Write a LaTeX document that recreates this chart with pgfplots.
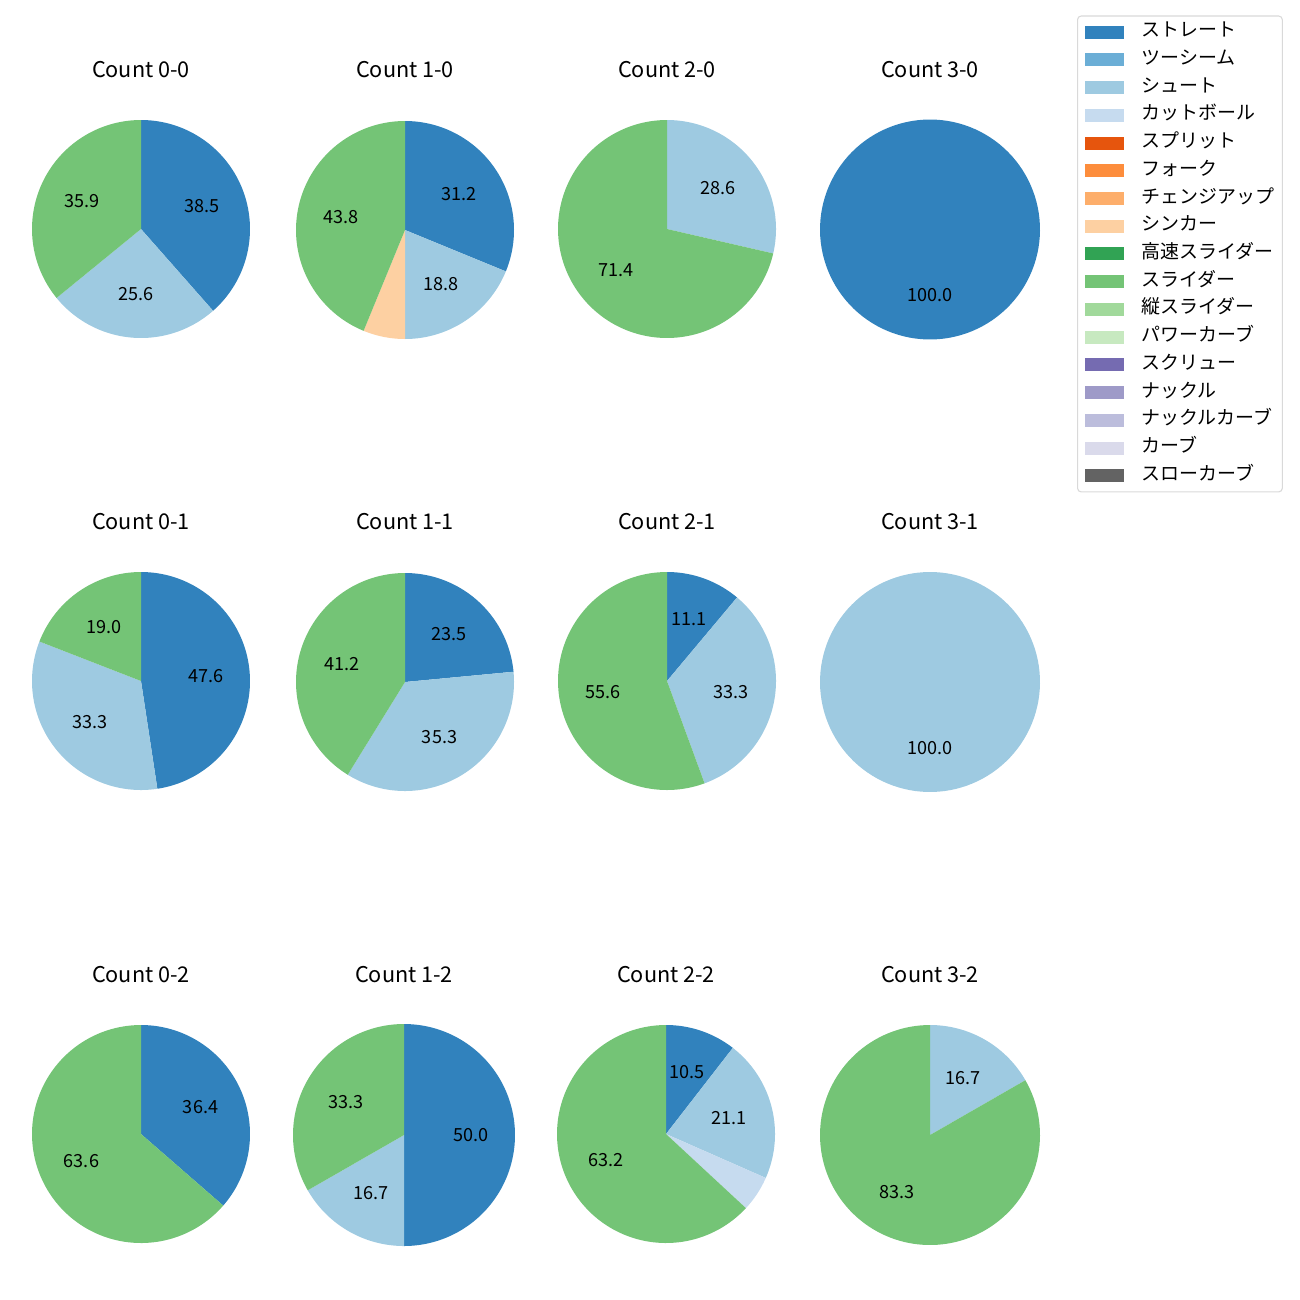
\documentclass[border=0pt]{standalone}
\usepackage{fontspec}
\setmainfont{Noto Sans CJK JP}
\usepackage{pgfplots}
\pgfplotsset{compat=1.18}
\definecolor{ca}{HTML}{3182BD}
\definecolor{cb}{HTML}{6BAED6}
\definecolor{cc}{HTML}{9ECAE1}
\definecolor{cd}{HTML}{C6DBEF}
\definecolor{ce}{HTML}{E6550D}
\definecolor{cf}{HTML}{FD8D3C}
\definecolor{cg}{HTML}{FDAE6B}
\definecolor{ch}{HTML}{FDD0A2}
\definecolor{ci}{HTML}{31A354}
\definecolor{cj}{HTML}{74C476}
\definecolor{ck}{HTML}{A1D99B}
\definecolor{cl}{HTML}{C7E9C0}
\definecolor{cm}{HTML}{756BB1}
\definecolor{cn}{HTML}{9E9AC8}
\definecolor{co}{HTML}{BCBDDC}
\definecolor{cp}{HTML}{DADAEB}
\definecolor{cq}{HTML}{636363}
\newcommand\pxu{0.553846pt}
\newcommand\lab{\fontsize{10}{12}\selectfont}
% slice: value, colour, show label (1/0)
\newcommand\slice[3]{\pgfmathsetmacro\pe{\ps+#1}\sldraw{#2}{#3}{#1}}
\newcommand\slicel[3]{\def\pe{100}\sldraw{#2}{#3}{#1}}
\newcommand\sldraw[3]{%
  \pgfmathsetmacro\angA{90-3.6*\pe}%
  \pgfmathsetmacro\angB{90-3.6*\ps}%
  \pgfmathsetmacro\lx{0.6*cos(90-1.8*(\ps+\pe))}%
  \pgfmathsetmacro\ly{0.6*sin(90-1.8*(\ps+\pe))}%
  \edef\tmp{\noexpand\addplot[fill=#1,draw=none,domain=\angA:\angB,samples=120] ({cos(x)},{sin(x)}) -- (axis cs:0,0) -- cycle;}\tmp
  \ifnum#2=1 \edef\tmp{\noexpand\node[font=\noexpand\lab] at (axis cs:\lx,\ly) {#3};}\tmp\fi
  \global\let\ps\pe}
% pie: cx, cy, r, title y, title, slices (pixel units)
\newcommand\pie[6]{%
  \pgfmathsetlengthmacro\pw{2*#3*\pxu}%
  \pgfmathsetlengthmacro\tys{(#2-#4-#3-11)*\pxu}%
  \begin{axis}[hide axis, scale only axis, clip=false, width=\pw, height=\pw,
    xmin=-1,xmax=1,ymin=-1,ymax=1, anchor=center, at={({#1*\pxu},{-#2*\pxu})},
    title={#5}, title style={at={(0.5,1)}, anchor=center, yshift=\tys, font=\fontsize{12}{14}\selectfont}]
  \gdef\ps{0}%
  #6
  \end{axis}}
\begin{document}
\begin{tikzpicture}
\useasboundingbox (0,0) rectangle (720pt,-720pt);
\pie{141}{229}{109}{69}{Count 0-0}{\slice{38.5}{ca}{1}\slice{25.6}{cc}{1}\slicel{35.9}{cj}{1}}
\pie{405}{230}{109}{69}{Count 1-0}{\slice{31.2}{ca}{1}\slice{18.8}{cc}{1}\slice{6.2}{ch}{0}\slicel{43.8}{cj}{1}}
\pie{667}{229}{109}{69}{Count 2-0}{\slice{28.6}{cc}{1}\slicel{71.4}{cj}{1}}
\pie{930}{229.5}{110}{69}{Count 3-0}{\slicel{100.0}{ca}{1}}
\pie{141}{681}{109}{521}{Count 0-1}{\slice{47.6}{ca}{1}\slice{33.3}{cc}{1}\slicel{19.0}{cj}{1}}
\pie{405}{682}{109}{521}{Count 1-1}{\slice{23.5}{ca}{1}\slice{35.3}{cc}{1}\slicel{41.2}{cj}{1}}
\pie{667}{681}{109}{521}{Count 2-1}{\slice{11.1}{ca}{1}\slice{33.3}{cc}{1}\slicel{55.6}{cj}{1}}
\pie{930}{682}{110}{521}{Count 3-1}{\slicel{100.0}{cc}{1}}
\pie{141}{1134}{109}{974}{Count 0-2}{\slice{36.4}{ca}{1}\slicel{63.6}{cj}{1}}
\pie{404}{1135}{111}{974}{Count 1-2}{\slice{50.0}{ca}{1}\slice{16.7}{cc}{1}\slicel{33.3}{cj}{1}}
\pie{666}{1134}{109}{974}{Count 2-2}{\slice{10.5}{ca}{1}\slice{21.1}{cc}{1}\slice{5.3}{cd}{0}\slicel{63.2}{cj}{1}}
\pie{930}{1135}{110}{974}{Count 3-2}{\slice{16.7}{cc}{1}\slicel{83.3}{cj}{1}}
\begin{axis}[hide axis, scale only axis, width=720pt, height=720pt, at={(0,-720pt)}, anchor=south west,
  xmin=0,xmax=1,ymin=0,ymax=1, legend cell align=left,
  legend style={at={(0.82846,0.98808)}, anchor=north west, draw=black!15, rounded corners=2pt,
    line width=0.6pt, inner xsep=3.9pt, inner ysep=4.4pt, row sep=6.36pt, column sep=10pt,
    font=\fontsize{10.5}{12}\selectfont, nodes={inner sep=0pt, text height=7pt, text depth=2pt},
    /tikz/every even column/.append style={text width=74pt}},
  legend image code/.code={\fill[#1, sharp corners] (0pt,-3.6pt) rectangle (21.6pt,3.6pt);}]
\addlegendimage{fill=ca,draw=none}\addlegendentry{ストレート}
\addlegendimage{fill=cb,draw=none}\addlegendentry{ツーシーム}
\addlegendimage{fill=cc,draw=none}\addlegendentry{シュート}
\addlegendimage{fill=cd,draw=none}\addlegendentry{カットボール}
\addlegendimage{fill=ce,draw=none}\addlegendentry{スプリット}
\addlegendimage{fill=cf,draw=none}\addlegendentry{フォーク}
\addlegendimage{fill=cg,draw=none}\addlegendentry{チェンジアップ}
\addlegendimage{fill=ch,draw=none}\addlegendentry{シンカー}
\addlegendimage{fill=ci,draw=none}\addlegendentry{高速スライダー}
\addlegendimage{fill=cj,draw=none}\addlegendentry{スライダー}
\addlegendimage{fill=ck,draw=none}\addlegendentry{縦スライダー}
\addlegendimage{fill=cl,draw=none}\addlegendentry{パワーカーブ}
\addlegendimage{fill=cm,draw=none}\addlegendentry{スクリュー}
\addlegendimage{fill=cn,draw=none}\addlegendentry{ナックル}
\addlegendimage{fill=co,draw=none}\addlegendentry{ナックルカーブ}
\addlegendimage{fill=cp,draw=none}\addlegendentry{カーブ}
\addlegendimage{fill=cq,draw=none}\addlegendentry{スローカーブ}
\end{axis}
\end{tikzpicture}
\end{document}
